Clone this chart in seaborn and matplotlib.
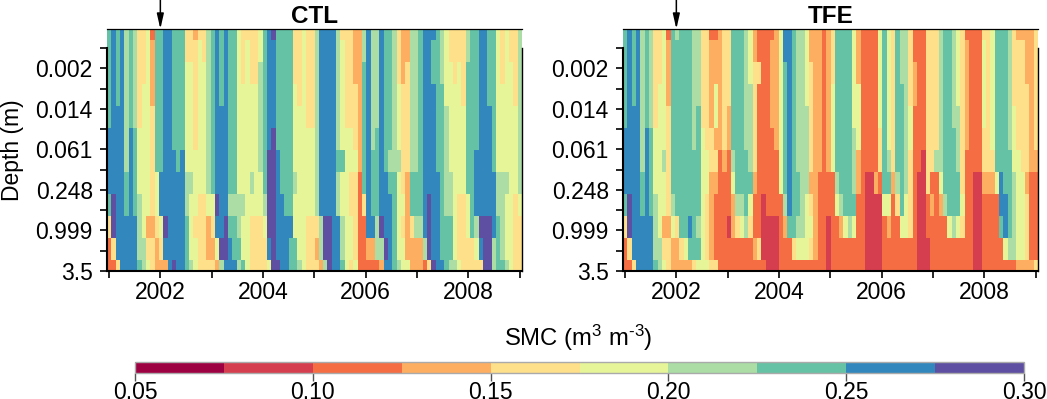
import numpy as np
import seaborn as sns
import matplotlib.pyplot as plt
from matplotlib.colors import ListedColormap

sns.set_theme(style="ticks")
plt.rcParams["font.family"] = ["Liberation Sans", "DejaVu Sans"]
plt.rcParams["mathtext.fontset"] = "custom"
plt.rcParams["mathtext.rm"] = "Liberation Sans"
plt.rcParams["mathtext.default"] = "regular"

# SMC class colours, driest to wettest
class_colors = ["#9E0142", "#D53E4F", "#F46D43", "#FDAE61", "#FEE08B",
                "#E6F598", "#ABDDA4", "#66C2A5", "#3288BD", "#5E4FA2"]
class_mids = [0.0625, 0.0875, 0.1125, 0.1375, 0.1625,
              0.1875, 0.2125, 0.2375, 0.2625, 0.2875]
cbar_ticks = [0.05, 0.10, 0.15, 0.20, 0.25, 0.30]
depth_labels = ["", "0.002", "", "0.014", "", "0.061", "", "0.248", "", "0.999", "", "3.5"]
year_labels = ["", "2002", "", "2004", "", "2006", "", "2008", ""]

# One string per month (2001-2008), one digit per soil layer top to bottom,
# each digit is the SMC class
ctl_months = [
    "777778887422", "888888889942", "777788888884", "888888888888", "666666677888", "777778888888",
    "666667777888", "444445556667", "444555555566", "555555555345", "233344444344", "777777755433",
    "777777788543", "888888888983", "888888888888", "777777888889", "777777788888", "777777888888",
    "445555566777", "445555565556", "344444555455", "455555554444", "445555554444", "666666665334",
    "777777775434", "888888889853", "777788888896", "888888888998", "777777776788", "777777776778",
    "555555556676", "444555556557", "455555555555", "444555565444", "444555555444", "556666655444",
    "777777776544", "888888999985", "988889999999", "777777888889", "777777778888", "777777777888",
    "777777777877", "444555565577", "444455555556", "555555555555", "444445555444", "444445555444",
    "666666666434", "888888888663", "888888888996", "888888888999", "888888888888", "666666766888",
    "455555755667", "444445555555", "444445544554", "333444544445", "333333322222", "667777774222",
    "888888888832", "666666777832", "666667777662", "888888888963", "777777788898", "777777678888",
    "666666677777", "444555655556", "333444445455", "334444433335", "666666677433", "666666677633",
    "777777777633", "888888888862", "888888889994", "877888888889", "777777788888", "666777777778",
    "555566666777", "445555566776", "444555555556", "445555554445", "444455554444", "667777775544",
    "777777777744", "777777888654", "888888888984", "888888888999", "777788888999", "777777788866",
    "555555566777", "444555566667", "555555565556", "445555555555", "444455554444", "666666665444",
]
tfe_months = [
    "777778887422", "888888889942", "777788888884", "888888888888", "666666677888", "777778888888",
    "666667777888", "444445556667", "444555555566", "555555655345", "233344444344", "777777776533",
    "677777777433", "777777777743", "777777777753", "777777777873", "666666777774", "666677777675",
    "444445555555", "444444554445", "233334433334", "233553432224", "333333222222", "444444322222",
    "444433222122", "777777653322", "777777776422", "777777776522", "666666777622", "555666675422",
    "334444432232", "224222222242", "222222221112", "222222222111", "233332222111", "333333222111",
    "555555552222", "887777776322", "888888888722", "777777777742", "666666677652", "666666666652",
    "555566665552", "334444434542", "333333333332", "333333322222", "222222222222", "333333322111",
    "444555522222", "777777765222", "777777776322", "777777777522", "777777777622", "555556667522",
    "333555332222", "222222222222", "222222211111", "222222211111", "222222231111", "555554421111",
    "777777775222", "555555675322", "444444432222", "777777764222", "666777777522", "666666665522",
    "444455444422", "223322222222", "222222211111", "222222111111", "444444442211", "444444423222",
    "444444622222", "666666653222", "777777776222", "777777777522", "666667777622", "555566677522",
    "444444445422", "233333222222", "222222222222", "222222211111", "222222211111", "455554432222",
    "444444432222", "555555432222", "777777752222", "777777788722", "777777778852", "666666777762",
    "444455566662", "344444555553", "344444455553", "333444434443", "333333322223", "444444322224",
]


def monthsToGrid(months):
    # Turn the month strings into a layers x months array of SMC values
    classes = np.array([[int(c) for c in m] for m in months]).T
    return np.array(class_mids)[classes]


# Draws one panel, left spine and ticks in the R style of the original
def drawPanel(ax, months, title, cax=None):
    sns.heatmap(
        monthsToGrid(months),
        ax=ax,
        cmap=cmap,
        vmin=0.05,
        vmax=0.30,
        xticklabels=False,
        yticklabels=False,
        cbar=cax is not None,
        cbar_ax=cax,
        cbar_kws={"orientation": "horizontal", "ticks": cbar_ticks} if cax is not None else {},
    )
    # First and last layer are only half shown
    ax.set_xlim(0, 96)
    ax.set_ylim(11.5, 0.5)

    ytick_pos = (11.5 - np.arange(12) * 0.9215)[::-1]
    xtick_pos = 0.46 + np.arange(9) * 11.88
    ax.set_yticks(ytick_pos)
    ax.set_xticks(xtick_pos)
    ax.set_yticklabels(depth_labels, rotation=0)
    ax.set_xticklabels(year_labels, rotation=0)
    ax.tick_params(axis="both", labelsize=16.5, length=5.2, width=1.2, color="black",
                   labelcolor="black", bottom=True, left=True)
    ax.tick_params(axis="y", pad=5)
    ax.tick_params(axis="x", pad=2)

    for name in ["left", "bottom", "top", "right"]:
        ax.spines[name].set_visible(True)
        ax.spines[name].set_color("black")
    ax.spines["left"].set_linewidth(1.5)
    ax.spines["bottom"].set_linewidth(1.5)
    ax.spines["top"].set_linewidth(0.9)
    ax.spines["right"].set_linewidth(1.0)
    ax.spines["left"].set_bounds(ytick_pos[0], 11.5)
    ax.spines["right"].set_bounds(ytick_pos[0], 11.5)

    ax.set_title(title, fontsize=17.5, fontweight="bold", pad=4.5, color="black")

    # Arrow marks the start of the 2002 treatment
    ax.annotate(
        "",
        xy=(xtick_pos[1], 1.0),
        xytext=(xtick_pos[1], 1.125),
        xycoords=ax.get_xaxis_transform(),
        textcoords=ax.get_xaxis_transform(),
        annotation_clip=False,
        arrowprops=dict(arrowstyle="-|>,head_length=0.75,head_width=0.17", color="black",
                        lw=1.1, shrinkA=0, shrinkB=0),
    )


cmap = ListedColormap(sns.color_palette(class_colors))

W, H = 1047, 399
fig = plt.figure(figsize=(W / 100, H / 100), dpi=100)


def pixelAxes(x0, x1, y0, y1):
    return fig.add_axes([x0 / W, 1 - y1 / H, (x1 - x0) / W, (y1 - y0) / H])


ax1 = pixelAxes(107, 522, 29, 271)
ax2 = pixelAxes(623, 1038, 29, 271)
cax = pixelAxes(135, 1024, 362, 373)

drawPanel(ax1, ctl_months, "CTL", cax=cax)
drawPanel(ax2, tfe_months, "TFE")

ax1.set_ylabel("Depth (m)", fontsize=16.5, color="black")
ax1.yaxis.set_label_coords(-83 / 415, 0.5)

# Colour bar
cax.tick_params(axis="x", labelsize=16.5, length=5.6, width=1.0, color="#555555",
                labelcolor="black", pad=0.5, bottom=True)
cax.xaxis.set_major_formatter(plt.FormatStrFormatter("%.2f"))
cbar_outline = ax1.collections[0].colorbar.outline
cbar_outline.set_edgecolor("#AAAAAA")
cbar_outline.set_linewidth(1.0)
fig.text(578 / W, 1 - 338 / H, "SMC (m$^{3}$ m$^{\\text{-}3}$)", fontsize=17.2,
         ha="center", va="center", color="black")

plt.savefig("out.png", dpi=100)
